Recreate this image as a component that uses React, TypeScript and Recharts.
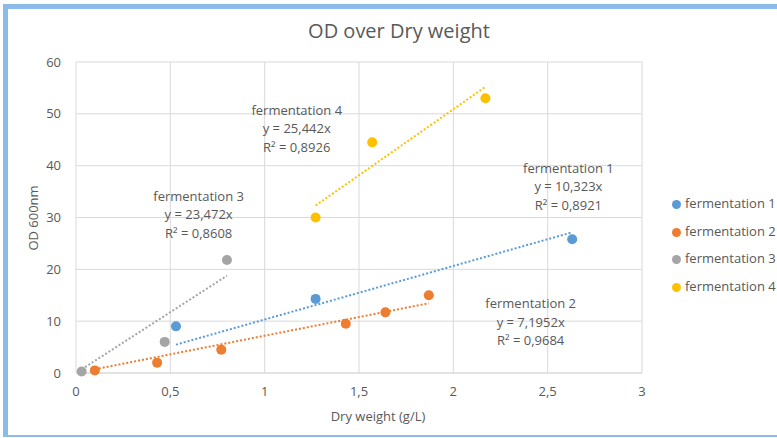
import {
  ComposedChart,
  Scatter,
  XAxis,
  YAxis,
  CartesianGrid,
  Legend,
  ReferenceDot
} from 'recharts'

const FONT = '"Open Sans", "Noto Sans", sans-serif'
const TEXT = '#595959'
const GRID = '#d9d9d9'

// Series names and colours (Excel default palette)
const seriesNames = ['fermentation 1', 'fermentation 2', 'fermentation 3', 'fermentation 4']
const seriesColors = ['#5b9bd5', '#ed7d31', '#a5a5a5', '#ffc000']

const f1X = [0.53, 1.27, 2.63]
const f1Y = [9, 14.3, 25.8]
const f2X = [0.1, 0.43, 0.77, 1.43, 1.64, 1.87]
const f2Y = [0.5, 2, 4.5, 9.5, 11.7, 15]
const f3X = [0.03, 0.47, 0.8]
const f3Y = [0.3, 6, 21.8]
const f4X = [1.27, 1.57, 2.17]
const f4Y = [30, 44.5, 53]

// Trendline equations shown on the chart (y = slope * x, through origin)
const slopes = [10.323, 7.1952, 23.472, 25.442]
const rSquared = [0.8921, 0.9684, 0.8608, 0.8926]

// Where each equation label sits, in data units (middle line)
const labelX = [2.61, 2.41, 0.65, 1.17]
const labelY = [35.9, 9.8, 30.5, 47.1]

const xTicks = [0, 0.5, 1, 1.5, 2, 2.5, 3]
const yTicks = [0, 10, 20, 30, 40, 50, 60]

const xs = [f1X, f2X, f3X, f4X]
const ys = [f1Y, f2Y, f3Y, f4Y]

const points = xs.map((arr, i) => arr.map((x, j) => ({ x, y: ys[i][j] })))

// trendline drawn over the range of each series' measured x
const trends = xs.map((arr, i) => {
  const lo = Math.min(...arr)
  const hi = Math.max(...arr)
  return [
    { x: lo, y: slopes[i] * lo },
    { x: hi, y: slopes[i] * hi }
  ]
})

const comma = (v: number) => String(v).replace('.', ',')

const Dot = (props: any) => {
  const { cx, cy, fill } = props
  if (cx == null || cy == null) return null
  return <circle cx={cx} cy={cy} r={5} fill={fill} />
}

const NoDot = () => null

const EquationLabel = (idx: number) => (props: any) => {
  const { cx, cy } = props
  if (cx == null || cy == null) return null
  return (
    <text x={cx} y={cy} textAnchor="middle" fontFamily={FONT} fontSize={13} fill={TEXT}>
      <tspan x={cx} dy={-14}>{seriesNames[idx]}</tspan>
      <tspan x={cx} dy={18.5}>{`y = ${comma(slopes[idx])}x`}</tspan>
      <tspan x={cx} dy={18.5}>{`R² = ${comma(rSquared[idx])}`}</tspan>
    </text>
  )
}

const LegendContent = () => (
  <div style={{ fontFamily: FONT, fontSize: 13, color: TEXT, whiteSpace: 'nowrap' }}>
    {seriesNames.map((name, i) => (
      <div key={name} style={{ display: 'flex', alignItems: 'center', height: 27.7 }}>
        <span
          style={{
            flex: 'none',
            width: 9,
            height: 9,
            borderRadius: '50%',
            background: seriesColors[i],
            marginRight: 4,
            marginTop: 3
          }}
        />
        <span>{name}</span>
      </div>
    ))}
  </div>
)

export default function App() {
  return (
    <div
      style={{
        position: 'absolute',
        left: 0,
        top: 0,
        width: 777,
        height: 438,
        background: '#fff',
        overflow: 'hidden'
      }}
    >
      {/* frame */}
      <div style={{ position: 'absolute', left: 3, top: 4, width: 774, height: 5, background: '#8bbbea' }} />
      <div style={{ position: 'absolute', left: 3, top: 4, width: 5, height: 433, background: '#8bbbea' }} />
      <div style={{ position: 'absolute', left: 3, top: 435, width: 774, height: 2, background: '#8bbbea' }} />

      <div
        style={{
          position: 'absolute',
          left: 399,
          top: 30,
          transform: 'translate(-50%, -50%)',
          whiteSpace: 'nowrap',
          fontFamily: FONT,
          fontSize: 20,
          color: TEXT
        }}
      >
        OD over Dry weight
      </div>

      <div
        style={{
          position: 'absolute',
          left: 33,
          top: 218,
          transform: 'translate(-50%, -50%) rotate(-90deg)',
          whiteSpace: 'nowrap',
          fontFamily: FONT,
          fontSize: 13,
          color: TEXT
        }}
      >
        OD 600nm
      </div>

      <div
        style={{
          position: 'absolute',
          left: 378,
          top: 416,
          transform: 'translate(-50%, -50%)',
          whiteSpace: 'nowrap',
          fontFamily: FONT,
          fontSize: 13,
          color: TEXT
        }}
      >
        Dry weight (g/L)
      </div>

      <div style={{ position: 'absolute', left: 0, top: 0 }}>
        <ComposedChart
          width={777}
          height={438}
          margin={{ top: 62, right: 35, bottom: 35, left: 40 }}
        >
          <CartesianGrid stroke={GRID} strokeWidth={1} />
          <XAxis
            type="number"
            dataKey="x"
            domain={[0, 3]}
            ticks={xTicks}
            height={30}
            axisLine={{ stroke: GRID }}
            tickLine={false}
            tick={{ fill: TEXT, fontSize: 13, fontFamily: FONT }}
            tickFormatter={comma}
            tickMargin={8}
          />
          <YAxis
            type="number"
            dataKey="y"
            domain={[0, 60]}
            ticks={yTicks}
            width={36}
            axisLine={false}
            tickLine={false}
            tick={{ fill: TEXT, fontSize: 13, fontFamily: FONT }}
            tickMargin={9}
          />
          <Legend
            layout="vertical"
            align="right"
            verticalAlign="middle"
            width={100}
            content={<LegendContent />}
            wrapperStyle={{ left: 672, top: 189, right: 'auto', overflow: 'visible' }}
          />
          {trends.map((t, i) => (
            <Scatter
              key={`trend${i}`}
              data={t}
              legendType="none"
              shape={NoDot}
              line={{ stroke: seriesColors[i], strokeWidth: 2, strokeDasharray: '2 2' }}
              isAnimationActive={false}
            />
          ))}
          {points.map((p, i) => (
            <Scatter
              key={seriesNames[i]}
              name={seriesNames[i]}
              data={p}
              fill={seriesColors[i]}
              shape={Dot}
              isAnimationActive={false}
            />
          ))}
          {labelX.map((lx, i) => (
            <ReferenceDot
              key={`lab${i}`}
              x={lx}
              y={labelY[i]}
              r={0}
              shape={EquationLabel(i)}
            />
          ))}
        </ComposedChart>
      </div>
    </div>
  )
}
